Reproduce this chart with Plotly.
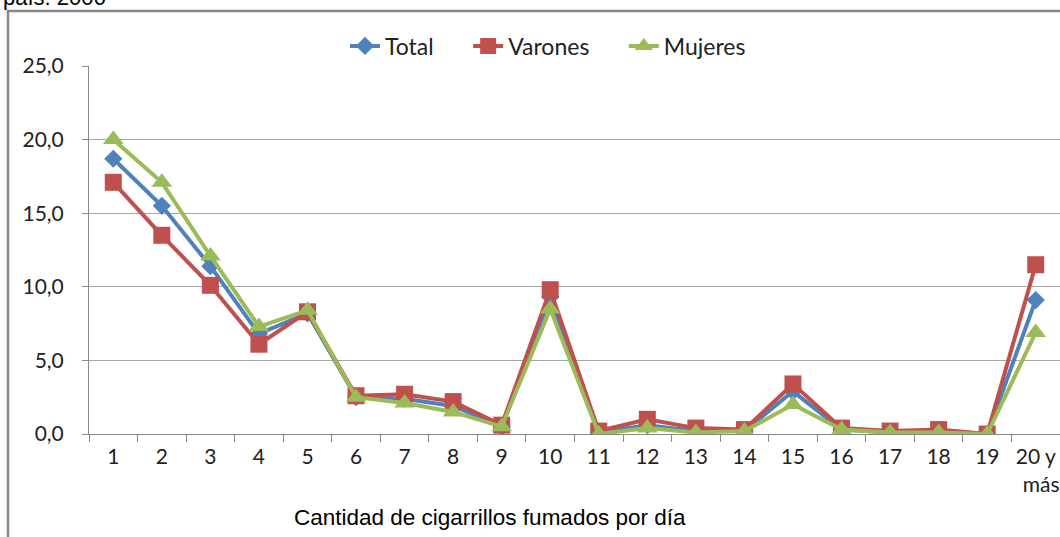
import plotly.graph_objects as go

categorias = ["1", "2", "3", "4", "5", "6", "7", "8", "9", "10", "11", "12", "13", "14", "15", "16", "17", "18", "19", "20 y<br>&nbsp;&nbsp;más"]
total = [18.7, 15.5, 11.4, 6.8, 8.2, 2.5, 2.4, 1.9, 0.5, 9.3, 0.1, 0.6, 0.2, 0.2, 2.9, 0.3, 0.1, 0.2, 0.0, 9.1]
varones = [17.1, 13.5, 10.1, 6.1, 8.3, 2.6, 2.7, 2.2, 0.6, 9.8, 0.2, 1.0, 0.4, 0.3, 3.4, 0.4, 0.2, 0.3, 0.0, 11.5]
mujeres = [20.0, 17.1, 12.1, 7.3, 8.4, 2.5, 2.1, 1.5, 0.5, 8.5, 0.0, 0.4, 0.1, 0.2, 2.0, 0.3, 0.1, 0.1, 0.0, 6.9]
y_ticks = [0, 5, 10, 15, 20, 25]

W, H = 1060, 537
L, R, T, B = 89, 0, 66, 103
pw, ph = W - L - R, H - T - B

def px_x(p):
    return (p - L) / pw

def px_y(p):
    return (H - B - p) / ph

font_main = "Lato, Carlito, Calibri, sans-serif"

fig = go.Figure()
series = [
    ("Total&nbsp;&nbsp;&nbsp;&nbsp;&nbsp;", total, "#4F81BD", "diamond", 14),
    ("Varones&nbsp;&nbsp;&nbsp;&nbsp;&nbsp;", varones, "#C0504D", "square", 17),
    ("Mujeres", mujeres, "#9BBB59", "triangle-up", 18),
]
for name, vals, col, sym, sz in series:
    fig.add_trace(go.Scatter(
        x=categorias, y=vals, name=name, mode="lines+markers",
        line=dict(color=col, width=4),
        marker=dict(symbol=sym, size=sz, color=col),
    ))

fig.update_layout(
    width=W, height=H,
    margin=dict(l=L, r=R, t=T, b=B),
    paper_bgcolor="white", plot_bgcolor="white",
    separators=",.",
    showlegend=True,
    legend=dict(orientation="h", x=px_x(548), xanchor="center", y=px_y(46), yanchor="middle",
                font=dict(family=font_main, size=23, color="#222"),
                bgcolor="rgba(0,0,0,0)", traceorder="normal"),
    xaxis=dict(
        type="category", range=[-0.5, 19.5],
        tickson="boundaries", ticks="outside", ticklen=7, tickcolor="#888",
        showline=True, linecolor="#888", linewidth=1,
        showgrid=False,
        tickfont=dict(family=font_main, size=21, color="#222"),
        tickangle=0, ticklabelstandoff=4,
    ),
    yaxis=dict(
        range=[0, 25], tickvals=y_ticks, tickformat=".1f",
        ticks="outside", ticklen=6, tickcolor="#888",
        showline=True, linecolor="#888", linewidth=1,
        showgrid=True, gridcolor="#A6A6A6", gridwidth=1,
        zeroline=False, ticklabelstandoff=14,
        tickfont=dict(family=font_main, size=21, color="#222"),
    ),
    annotations=[
        dict(text="Cantidad de cigarrillos fumados por día", xref="paper", yref="paper",
             x=px_x(490), y=px_y(517), xanchor="center", yanchor="middle", showarrow=False,
             font=dict(family="Liberation Sans, Arial, sans-serif", size=22.5, color="#000")),
        dict(text="país. 2006", xref="paper", yref="paper",
             x=px_x(1), y=px_y(12), xanchor="left", yanchor="bottom", showarrow=False,
             font=dict(family="Liberation Sans, Arial, sans-serif", size=22, color="#000")),
    ],
    shapes=[
        dict(type="rect", xref="paper", yref="paper",
             x0=px_x(8), x1=px_x(1100), y0=px_y(560), y1=px_y(11),
             line=dict(color="#888888", width=2.5), fillcolor="rgba(0,0,0,0)", layer="below"),
    ],
)

fig.write_html("out.html", config={"displayModeBar": False},
               post_script="document.body.style.margin='0px';")
